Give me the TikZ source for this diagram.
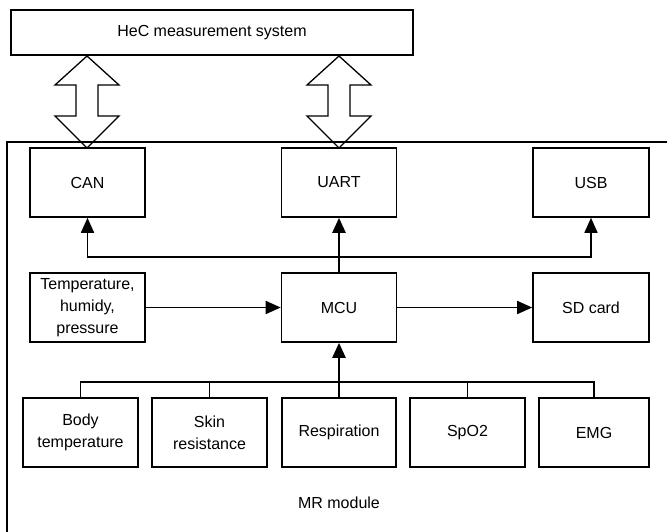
\documentclass[tikz,border=0pt]{standalone}
\usepackage{fontspec}
\setmainfont{Liberation Sans}
\usetikzlibrary{arrows.meta}
\begin{document}
\begin{tikzpicture}[x=1pt,y=-1pt,
  box/.style={draw,line width=1.6pt,fill=white,minimum width=115pt,minimum height=69pt,inner sep=2pt,align=center,font=\fontsize{16}{22}\selectfont},
  conn/.style={line width=1.7pt},
  thin conn/.style={line width=1.2pt},
  thick conn/.style={line width=2.4pt},
  tip/.style={-{Triangle[length=15pt,width=13pt]}},
  dblarrow/.style={draw,line width=1.3pt,fill=white,line join=miter},
  lbl/.style={font=\fontsize{16}{22}\selectfont}]
\useasboundingbox (0,0) rectangle (667,532);
% top system box
\node[box,minimum width=402pt,minimum height=45pt] (hec) at (212,32.5) {HeC measurement system};
% interface boxes
\node[box] (can)  at (87.5,182.5) {CAN};
\node[box] (uart) at (339,182.5) {UART};
\node[box,minimum width=116pt] (usb)  at (591,182.5) {USB};
% middle row
\node[box] (temp) at (87.5,307.5) {Temperature,\\humidy,\\pressure};
\node[box] (mcu)  at (339,307.5) {MCU};
\node[box,minimum width=116pt] (sd) at (591,307.5) {SD card};
% sensor row
\node[box] (body) at (80.5,432.5) {Body\\temperature};
\node[box] (skin) at (209.5,432.5) {Skin\\resistance};
\node[box,minimum width=114pt] (resp) at (339,432.5) {Respiration};
\node[box] (spo2) at (467.5,432.5) {SpO2};
\node[box,minimum width=110pt] (emg)  at (594,432.5) {EMG};
\node[lbl] (mr) at (339,503) {MR module};
% double arrows
\foreach \cx/\nm in {87/ca, 339/ua}{
  \draw[dblarrow] (\cx,56) coordinate (\nm top) -- (\cx-32,85) -- (\cx-11,85) -- (\cx-11,116) -- (\cx-32,116)
     -- (\cx,148) coordinate (\nm bot) -- (\cx+32,116) -- (\cx+11,116) -- (\cx+11,85) -- (\cx+32,85) -- cycle;
}
% module frame
\coordinate (frameTL) at (7,142);
\coordinate (frameTR) at (667,142);
\coordinate (frameBL) at (7,532);
\draw[conn] (frameTR) -- (frameTL) -- (frameBL);
% upper bus
\coordinate (busT) at (339,257);
\draw[conn,tip] (busT) -| (can.south);
\draw[conn,tip] (busT) -| (usb.south);
\draw[thick conn,tip] (mcu.north) -- (uart.south);
% middle arrows
\draw[conn,tip] (temp.east) -- (mcu.west);
\draw[conn,tip] (mcu.east) -- (sd.west);
% lower bus
\coordinate (busB) at (339,382);
\draw[conn] (body.north) -- (body.north |- busB) -- (emg.north |- busB) -- (emg.north);
\draw[thin conn] (skin.north) -- (skin.north |- busB);
\draw[thin conn] (spo2.north) -- (spo2.north |- busB);
\draw[thick conn,tip] (resp.north) -- (mcu.south);
\end{tikzpicture}
\end{document}
